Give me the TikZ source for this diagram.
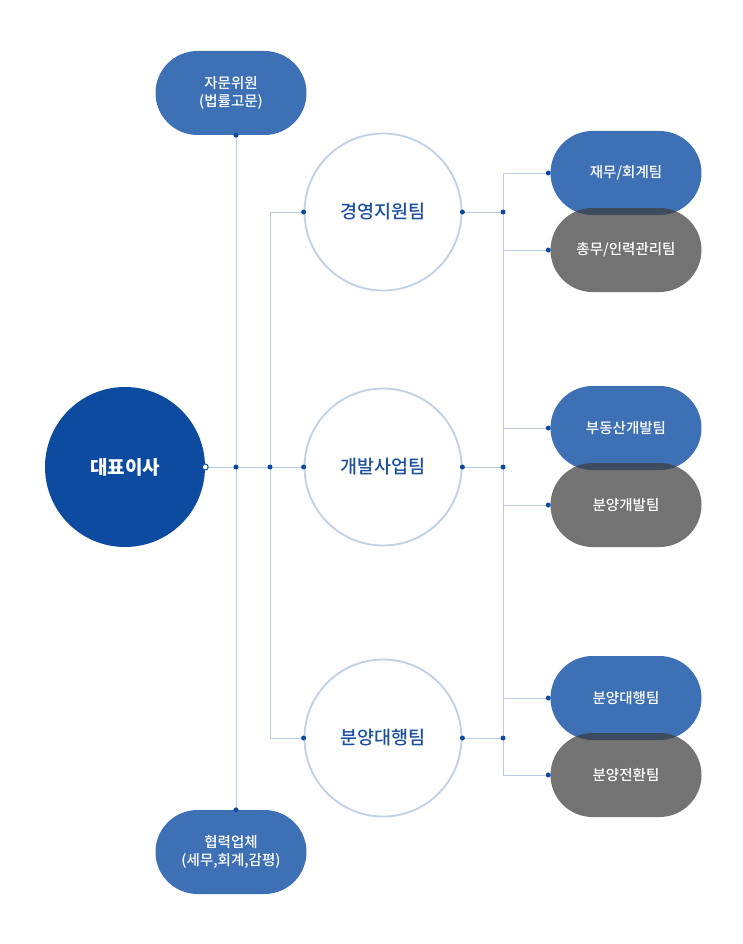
\documentclass[tikz,border=0pt]{standalone}
\usepackage{fontspec}
\usepackage{tikz}
\newfontfamily\kr{Noto Sans CJK KR}
\newfontfamily\krm{Noto Sans CJK KR Medium}
\definecolor{ceoblue}{RGB}{13,75,160}
\definecolor{pillblue}{RGB}{62,112,181}
\definecolor{pillgray}{RGB}{61,61,61}
\definecolor{ringblue}{RGB}{192,208,231}
\definecolor{lineblue}{RGB}{187,205,230}
\definecolor{teamtext}{RGB}{30,80,160}
\tikzset{
  conn/.style={draw=lineblue,line width=0.9pt},
  jdot/.style={circle,fill=ceoblue,inner sep=0pt,minimum size=5pt},
  ceo/.style={circle,fill=ceoblue,minimum size=160pt,inner sep=0pt,text=white,font=\kr\bfseries\fontsize{19}{22}\selectfont},
  team/.style={circle,draw=ringblue,line width=1.8pt,fill=white,minimum size=157pt,inner sep=0pt,text=teamtext,font=\krm\fontsize{18.5}{22}\selectfont},
  pill/.style={rectangle,rounded corners=42pt,fill=pillblue,minimum width=151pt,minimum height=84pt,inner sep=0pt,text=white,align=center,font=\krm\fontsize{14.5}{18}\selectfont},
  graypill/.style={pill,fill=pillgray,fill opacity=0.72,text opacity=1}
}
\begin{document}
\begin{tikzpicture}[x=1pt,y=-1pt]
\useasboundingbox (0,0) rectangle (742,944);
\node[ceo] (ceo) at (125,467){대표이사};
\node[pill] (adv) at (231,93){자문위원\\(법률고문)};
\node[pill] (part) at (231,852){협력업체\\(세무,회계,감평)};
\node[team] (t1) at (383,212){경영지원팀};
\node[team] (t2) at (383,467){개발사업팀};
\node[team] (t3) at (383,738){분양대행팀};
\node[pill] (p1) at (626,173){재무/회계팀};
\node[graypill] (p2) at (626,250){총무/인력관리팀};
\node[pill] (p3) at (626,428){부동산개발팀};
\node[graypill] (p4) at (626,505){분양개발팀};
\node[pill] (p5) at (626,698){분양대행팀};
\node[graypill] (p6) at (626,775){분양전환팀};
\coordinate (spine) at (236,467);
\coordinate (bus) at (270,467);
\coordinate (rbus) at (503,467);
% connectors
\draw[conn] (adv.south -| spine) -- (part.north -| spine);
\draw[conn] (ceo.east) -- (t2.west);
\draw[conn] (t1.west) -- (t1.west -| bus) -- (t3.west -| bus) -- (t3.west);
\draw[conn] (p1.west -| rbus) -- (p6.west -| rbus);
\foreach \t in {t1,t2,t3}
  \draw[conn] (\t.east) -- (\t.east -| rbus);
\foreach \p in {p1,p2,p3,p4,p5,p6}
  \draw[conn] (\p.west -| rbus) -- ([xshift=-2pt]\p.west);
% joints
\foreach \j in {adv.south -| spine,part.north -| spine,spine,bus,t1.west,t2.west,t3.west,t1.east,t2.east,t3.east,t1.east -| rbus,rbus,t3.east -| rbus}
  \node[jdot] at (\j){};
\foreach \p in {p1,p2,p3,p4,p5,p6}
  \node[jdot] at ([xshift=-2pt]\p.west){};
\node[circle,draw=ceoblue,fill=white,line width=1pt,inner sep=0pt,minimum size=6pt] (open) at (ceo.east){};
\end{tikzpicture}
\end{document}
